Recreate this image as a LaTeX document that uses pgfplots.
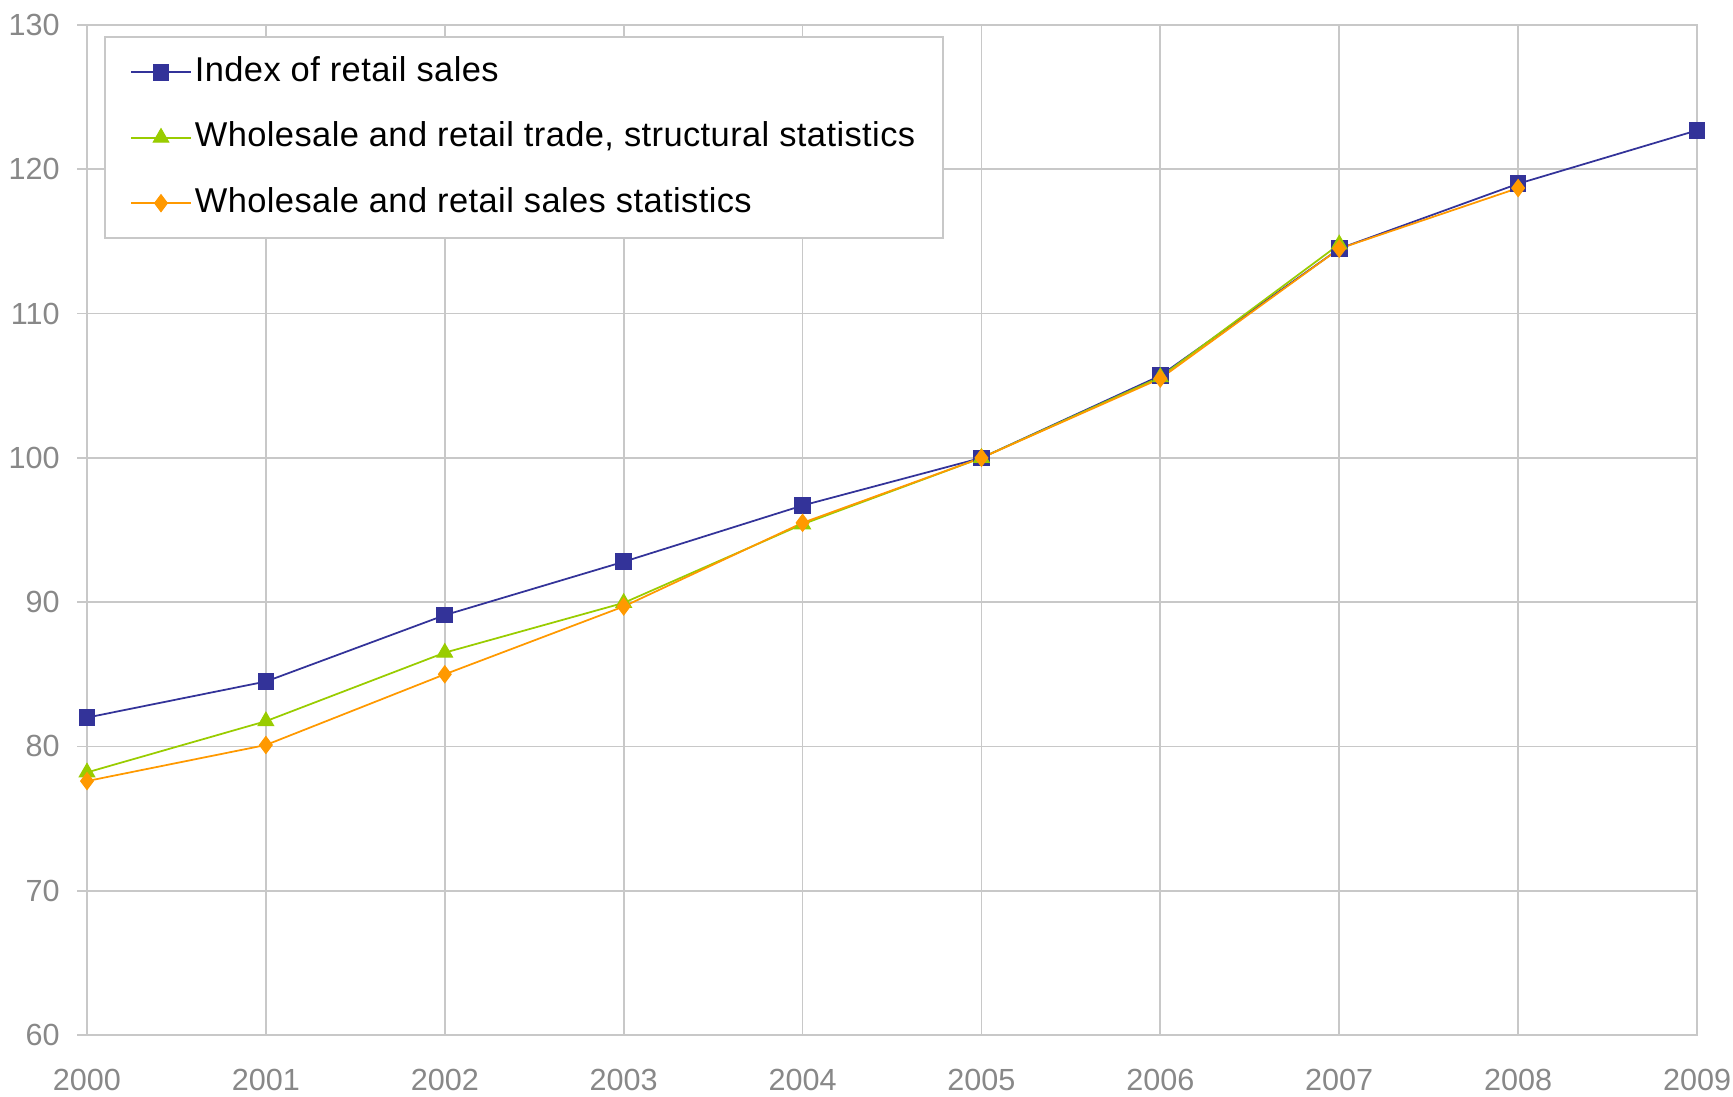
\documentclass[border=0pt]{standalone}
\usepackage{fontspec}
\setmainfont{Liberation Sans}
\newfontfamily\legendfont[LetterSpace=1.2]{Liberation Sans}
\usepackage{pgfplots}
\pgfplotsset{compat=1.18}
\definecolor{retailblue}{HTML}{333399}
\definecolor{tradegreen}{HTML}{99CC00}
\definecolor{salesorange}{HTML}{FF9900}
\definecolor{gridgray}{HTML}{C8C8C8}
\definecolor{labelgray}{HTML}{888888}

\begin{document}
\begin{tikzpicture}
\useasboundingbox (-0.87cm,-0.61cm) rectangle (16.46cm,10.35cm);
\begin{axis}[
    scale only axis,
    width=16.10cm,
    height=10.10cm,
    at={(0,0)}, anchor=south west,
    xmin=2000, xmax=2009,
    ymin=60, ymax=130,
    xtick={2000,2001,...,2009},
    ytick={60,70,...,130},
    /pgf/number format/assume math mode=true,
    /pgf/number format/1000 sep={},
    tick label style={font=\fontsize{8.7}{10}\selectfont, text=labelgray},
    grid=major,
    grid style={gridgray, line width=0.5pt},
    axis line style={gridgray, line width=0.6pt},
    tick style={gridgray, line width=0.5pt},
    tick align=outside,
    ytick pos=left,
    xtick pos=bottom,
    x tick style={draw=none},
    major tick length=0.1cm,
    yticklabel style={xshift=-0.05cm},
    xticklabel style={yshift=-0.12cm},
    legend cell align=left,
    legend style={
        at={(rel axis cs:0.0106,0.989)}, anchor=north west,
        draw=gridgray, line width=0.6pt,
        font=\legendfont\fontsize{9.8}{11}\selectfont,
        inner xsep=2.5mm, inner ysep=2mm,
        row sep=3.55mm,
        nodes={text height=2.4mm, text depth=0.6mm, inner ysep=0pt, inner xsep=0.3mm},
    },
]
\addplot[retailblue, line width=0.5pt, mark=square*, mark size=0.078cm,
    mark options={fill=retailblue, draw=retailblue, line width=0.3pt}] coordinates {
    (2000,82.0) (2001,84.5) (2002,89.1) (2003,92.8) (2004,96.7)
    (2005,100.0) (2006,105.7) (2007,114.5) (2008,119.0) (2009,122.7)
};
\addlegendentry{Index of retail sales}
\addplot[tradegreen, line width=0.5pt, mark=triangle*, mark size=0.09cm,
    mark options={fill=tradegreen, draw=tradegreen, line width=0.3pt}] coordinates {
    (2000,78.2) (2001,81.75) (2002,86.5) (2003,89.95) (2004,95.4)
    (2005,100.0) (2006,105.6) (2007,114.8)
};
\addlegendentry{Wholesale and retail trade, structural statistics}
\addplot[salesorange, line width=0.5pt, mark=diamond*, mark size=0.085cm,
    mark options={fill=salesorange, draw=salesorange, line width=0.3pt}] coordinates {
    (2000,77.6) (2001,80.1) (2002,85.0) (2003,89.7) (2004,95.5)
    (2005,100.0) (2006,105.5) (2007,114.5) (2008,118.7)
};
\addlegendentry{Wholesale and retail sales statistics}
\end{axis}
\end{tikzpicture}
\end{document}
